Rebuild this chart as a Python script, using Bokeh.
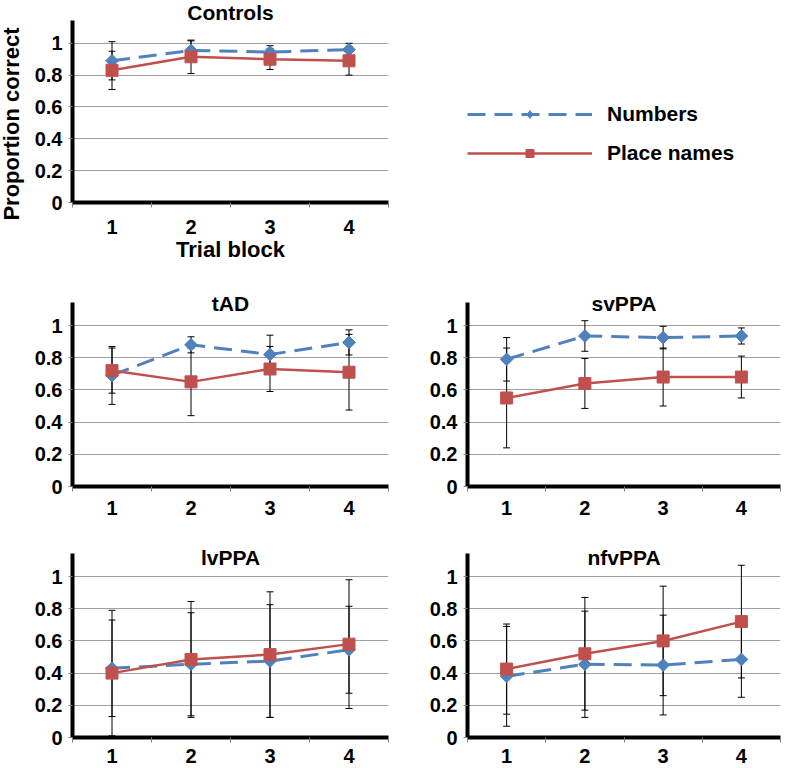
import math
from bokeh.plotting import figure
from bokeh.models import (Range1d, FixedTicker, Whisker, TeeHead, ColumnDataSource,
                          Title, Legend, LegendItem, Div)
from bokeh.layouts import row, column
from bokeh.embed import file_html
from bokeh.resources import INLINE

# ---------------- data ----------------
blocks = [1, 2, 3, 4]
block_labels = ["1", "2", "3", "4"]
y_ticks = [0, 0.2, 0.4, 0.6, 0.8, 1]
y_tick_labels = ["0", "0.2", "0.4", "0.6", "0.8", "1"]
series_names = ["Numbers", "Place names"]
y_axis_title = "Proportion correct"
x_axis_title = "Trial block"

controls_numbers = [0.89, 0.955, 0.945, 0.96]
controls_numbers_err = [0.12, 0.06, 0.04, 0.04]
controls_places = [0.83, 0.915, 0.90, 0.89]
controls_places_err = [0.12, 0.105, 0.065, 0.09]

tad_numbers = [0.69, 0.88, 0.82, 0.895]
tad_numbers_err = [0.18, 0.05, 0.12, 0.078]
tad_places = [0.72, 0.65, 0.73, 0.71]
tad_places_err = [0.14, 0.21, 0.14, 0.235]

svppa_numbers = [0.79, 0.935, 0.925, 0.935]
svppa_numbers_err = [0.135, 0.095, 0.07, 0.05]
svppa_places = [0.55, 0.64, 0.68, 0.68]
svppa_places_err = [0.31, 0.155, 0.18, 0.13]

lvppa_numbers = [0.43, 0.455, 0.475, 0.545]
lvppa_numbers_err = [0.30, 0.32, 0.35, 0.27]
lvppa_places = [0.40, 0.485, 0.515, 0.58]
lvppa_places_err = [0.39, 0.36, 0.39, 0.40]

nfvppa_numbers = [0.38, 0.455, 0.45, 0.485]
nfvppa_numbers_err = [0.31, 0.33, 0.31, 0.235]
nfvppa_places = [0.425, 0.52, 0.60, 0.72]
nfvppa_places_err = [0.28, 0.35, 0.34, 0.35]

# ---------------- style ----------------
FONT = "Liberation Sans"
BLUE = "#4F81BD"
RED = "#C0504D"
Y_END = 1.143


def make_panel(title, num, num_err, plc, plc_err, width, height, left, top, bottom,
               title_standoff, x_standoff, x_label=None):
    p = figure(width=width, height=height, x_range=Range1d(0.5, 4.5),
               y_range=Range1d(0, Y_END), output_backend="svg",
               toolbar_location=None, tools="",
               min_border_left=left, min_border_right=2,
               min_border_top=top, min_border_bottom=bottom)
    p.outline_line_color = None
    p.xgrid.visible = False
    p.ygrid.grid_line_color = "#a0a0a0"
    p.ygrid.grid_line_width = 1

    p.add_layout(Title(text=title, align="center", standoff=title_standoff,
                       text_font=FONT, text_font_size="21px",
                       text_font_style="bold", text_color="black"), "above")

    xa = p.xaxis[0]
    xa.ticker = FixedTicker(ticks=blocks, minor_ticks=[0.5, 1.5, 2.5, 3.5, 4.5])
    xa.major_label_overrides = dict(zip(blocks, block_labels))
    xa.axis_line_width = 4
    xa.axis_line_color = "black"
    xa.major_tick_out = 0
    xa.major_tick_in = 0
    xa.major_tick_line_color = None
    xa.minor_tick_out = 5
    xa.minor_tick_in = 0
    xa.minor_tick_line_color = "#808080"
    xa.major_label_standoff = x_standoff
    xa.major_label_text_font = FONT
    xa.major_label_text_font_size = "20px"
    xa.major_label_text_font_style = "bold"
    xa.major_label_text_color = "black"
    if x_label:
        xa.axis_label = x_label
        xa.axis_label_standoff = 0
        xa.axis_label_text_font = FONT
        xa.axis_label_text_font_size = "22px"
        xa.axis_label_text_font_style = "bold"
        xa.axis_label_text_color = "black"

    ya = p.yaxis[0]
    ya.ticker = FixedTicker(ticks=y_ticks)
    ya.major_label_overrides = dict(zip(y_ticks, y_tick_labels))
    ya.axis_line_width = 4
    ya.axis_line_color = "black"
    ya.major_tick_out = 4
    ya.major_tick_in = 0
    ya.major_tick_line_color = "#808080"
    ya.minor_tick_line_color = None
    ya.major_label_standoff = 6
    ya.major_label_text_font = FONT
    ya.major_label_text_font_size = "20px"
    ya.major_label_text_font_style = "bold"
    ya.major_label_text_color = "black"

    # Numbers series
    s_num = ColumnDataSource(dict(
        x=blocks, y=num,
        upper=[v + e for v, e in zip(num, num_err)],
        lower=[v - e for v, e in zip(num, num_err)]))
    p.line("x", "y", source=s_num, line_color=BLUE, line_width=3, line_dash="18 9")
    p.add_layout(Whisker(source=s_num, base="x", upper="upper", lower="lower",
                         dimension="height", line_color="black", line_width=1,
                         upper_head=TeeHead(size=7, line_color="black", line_width=1),
                         lower_head=TeeHead(size=7, line_color="black", line_width=1)))
    p.scatter("x", "y", source=s_num, marker="square", angle=math.pi / 4, size=9,
              fill_color=BLUE, line_color=BLUE)

    # Place names series
    s_plc = ColumnDataSource(dict(
        x=blocks, y=plc,
        upper=[v + e for v, e in zip(plc, plc_err)],
        lower=[v - e for v, e in zip(plc, plc_err)]))
    p.line("x", "y", source=s_plc, line_color=RED, line_width=2.5)
    p.add_layout(Whisker(source=s_plc, base="x", upper="upper", lower="lower",
                         dimension="height", line_color="black", line_width=1,
                         upper_head=TeeHead(size=7, line_color="black", line_width=1),
                         lower_head=TeeHead(size=7, line_color="black", line_width=1)))
    p.scatter("x", "y", source=s_plc, marker="square", size=12,
              fill_color=RED, line_color=RED)
    return p


LW, RW = 390, 392
YLAB_W = 24

# rotated y-axis title for the Controls panel
ylab = Div(text=('<div style="width:248px;height:24px;line-height:24px;'
                 'text-align:center;white-space:nowrap;'
                 'transform-origin:0 0;transform:translate(0px,248px) rotate(-90deg);'
                 "font-family:'Liberation Sans';font-weight:bold;font-size:22px;"
                 'color:black;">' + y_axis_title + '</div>'),
           width=YLAB_W, height=264, margin=0)

p_ctrl = make_panel("Controls", controls_numbers, controls_numbers_err,
                    controls_places, controls_places_err,
                    LW - YLAB_W, 264, 72 - YLAB_W, 20, 60, -7, 12,
                    x_label=x_axis_title)

# legend panel (proxy renderers use the Controls data but lie outside this panel's ranges)
pl = figure(width=RW, height=264, x_range=Range1d(-2, -1), y_range=Range1d(-2, -1),
            output_backend="svg", toolbar_location=None, tools="",
            x_axis_location=None, y_axis_location=None,
            min_border_left=0, min_border_top=20, min_border_right=0,
            min_border_bottom=60)
pl.grid.visible = False
pl.outline_line_color = None
r1 = pl.line(x=blocks, y=controls_numbers, line_color=BLUE, line_width=3,
             line_dash="18 9")
r2 = pl.scatter(x=blocks, y=controls_numbers, marker="diamond", size=13,
                fill_color=BLUE, line_color=BLUE)
r3 = pl.line(x=blocks, y=controls_places, line_color=RED, line_width=2.5)
r4 = pl.scatter(x=blocks, y=controls_places, marker="square", size=12,
                fill_color=RED, line_color=RED)
legend = Legend(items=[LegendItem(label=series_names[0], renderers=[r1, r2]),
                       LegendItem(label=series_names[1], renderers=[r3, r4])],
                location=(77, 37), orientation="vertical",
                glyph_width=125, glyph_height=20, label_height=20,
                label_standoff=15, spacing=15, padding=0, margin=0,
                border_line_color=None, background_fill_alpha=0,
                label_text_font=FONT, label_text_font_size="21px",
                label_text_font_style="bold", label_text_color="black")
pl.add_layout(legend)

p_tad = make_panel("tAD", tad_numbers, tad_numbers_err, tad_places, tad_places_err,
                   LW, 257, 72, 38, 35, -24, 9)
p_sv = make_panel("svPPA", svppa_numbers, svppa_numbers_err, svppa_places, svppa_places_err,
                  RW, 257, 77, 38, 35, -24, 9)
p_lv = make_panel("lvPPA", lvppa_numbers, lvppa_numbers_err, lvppa_places, lvppa_places_err,
                  LW, 247, 72, 32, 31, -31, 6)
p_nfv = make_panel("nfvPPA", nfvppa_numbers, nfvppa_numbers_err, nfvppa_places, nfvppa_places_err,
                   RW, 247, 77, 32, 31, -31, 6)

layout = column(row(ylab, p_ctrl, pl, spacing=0), row(p_tad, p_sv, spacing=0),
                row(p_lv, p_nfv, spacing=0), spacing=0)

open("out.html", "w").write(file_html(layout, INLINE))
